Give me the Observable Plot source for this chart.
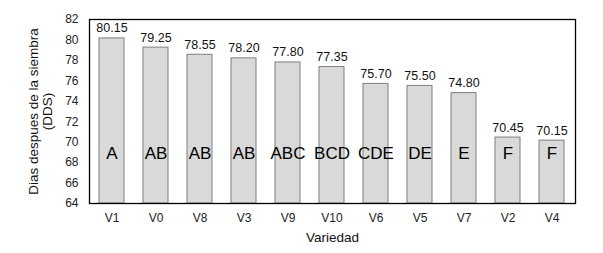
<!DOCTYPE html>
<html><head><meta charset="utf-8">
<script src="https://cdn.jsdelivr.net/npm/d3@7"></script>
<script src="https://cdn.jsdelivr.net/npm/@observablehq/plot@0.6"></script>
<style>
html,body{margin:0;padding:0;background:#fff;}
svg{display:block;}
</style>
</head><body>
<div id="chart"></div>
<script>
const variedades = ["V1","V0","V8","V3","V9","V10","V6","V5","V7","V2","V4"];
const valores = [80.15,79.25,78.55,78.20,77.80,77.35,75.70,75.50,74.80,70.45,70.15];
const etiquetas = ["80.15","79.25","78.55","78.20","77.80","77.35","75.70","75.50","74.80","70.45","70.15"];
const letras = ["A","AB","AB","AB","ABC","BCD","CDE","DE","E","F","F"];
const yTicks = [64,66,68,70,72,74,76,78,80,82];

const data = variedades.map((v,i)=>({v, val: valores[i], lab: etiquetas[i], let: letras[i]}));
const font = "Liberation Sans, Arial, sans-serif";

const chart = Plot.plot({
  width: 603, height: 253,
  marginLeft: 89, marginRight: 28, marginTop: 19, marginBottom: 50,
  style: {fontFamily: font, background: "#fff", color: "#000"},
  x: {domain: variedades, paddingInner: 0.43, paddingOuter: 0.215, label: null},
  y: {domain: [64,82], ticks: yTicks, label: null},
  marks: [
    Plot.barY(data, {x: "v", y1: 64, y2: "val", fill: "#d9d9d9", stroke: "#7f7f7f", strokeWidth: 1}),
    Plot.frame({stroke: "black", strokeWidth: 1.3}),
    Plot.axisY({ticks: yTicks, tickSize: 0, tickPadding: 11, fontSize: 12, label: null, fill: "#222"}),
    Plot.axisX({tickSize: 0, tickPadding: 10, fontSize: 12, label: null, fill: "#222"}),
    Plot.text(data, {x: "v", y: "val", text: "lab", dy: -10, fontSize: 12.5, fill: "#111"}),
    Plot.text(data, {x: "v", y: () => 68.9, text: "let", fontSize: 17, fill: "#000"}),
    Plot.text(["Variedad"], {frameAnchor: "bottom", textAnchor: "middle", dy: 38, fontSize: 13.5, fill: "#111"}),
    Plot.text(["Dias despues de la siembra\n(DDS)"], {frameAnchor: "left", textAnchor: "middle", lineAnchor: "middle", dx: -49, rotate: -90, fontSize: 13.5, fill: "#111", lineHeight: 1.05})
  ]
});
document.getElementById("chart").appendChild(chart);
</script>
</body></html>
